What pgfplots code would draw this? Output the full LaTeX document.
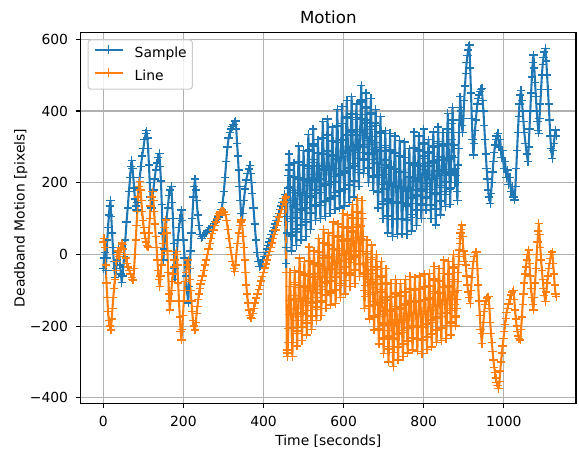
\documentclass[border=0pt]{standalone}
\usepackage{fontspec}
\setmainfont{DejaVu Sans}
\usepackage{pgfplots}
\pgfplotsset{compat=1.18}
\definecolor{tabblue}{HTML}{1F77B4}
\definecolor{taborange}{HTML}{FF7F0E}
\definecolor{gridgray}{HTML}{B0B0B0}
\definecolor{legedge}{HTML}{CCCCCC}
\begin{document}
\begin{tikzpicture}
\begin{axis}[
  name=ax,
  scale only axis, width=356.6pt, height=267.1pt,
  xmin=-56.4, xmax=1180, ymin=-415.3, ymax=619.5,
  xtick={0,200,400,600,800,1000}, xticklabels={0,200,400,600,800,1000},
  ytick={-400,-200,0,200,400,600}, yticklabels={−400,−200,0,200,400,600},
  xtick pos=bottom, ytick pos=left, tick align=outside,
  major tick length=3.5pt,
  every tick/.style={black, line width=0.8pt},
  axis line style={line width=0.8pt},
  grid=major, major grid style={gridgray, line width=0.8pt},
  tick label style={font=\fontsize{10}{12}\selectfont, inner sep=0pt},
  xticklabel style={anchor=base, yshift=-13.4pt},
  yticklabel style={anchor=east, xshift=-5.4pt},
  title={Motion},
  every axis title/.style={at={(axis description cs:0.5,1.0243)}, anchor=base, inner sep=0pt,
               font=\fontsize{12}{14}\selectfont},
  xlabel={Time [seconds]}, ylabel={Deadband Motion [pixels]},
  label style={font=\fontsize{10}{12}\selectfont, inner sep=0pt},
  xlabel style={at={(axis description cs:0.5,-0.1146)}, anchor=base},
  ylabel style={at={(axis description cs:-0.1133,0.5)}, anchor=base},
  legend cell align=left,
  legend image code/.code={\draw[#1,mark repeat=2,mark phase=2] plot coordinates {(0pt,3.2pt)(10pt,3.2pt)(20pt,3.2pt)};},
  legend style={at={(axis description cs:0.014,0.9813)}, anchor=north west,
    draw=legedge, line width=0.8pt, rounded corners=2pt, fill=white, fill opacity=0.8, text opacity=1,
    inner xsep=4pt, inner ysep=4pt, row sep=5.6pt, column sep=8pt,
    font=\fontsize{10}{12}\selectfont,
    nodes={inner sep=0pt, text height=7.5pt, text depth=2pt}},
]
\addplot[tabblue, line width=1.5pt, line join=round, mark=+, mark size=3pt, mark options={line width=1pt, solid}] coordinates {
(0,-40)(2,-10)(4,5)(6,-45)(8,-10)(10,40)(12,75)(14,110)(16,135)(18,150)(20,105)(22,60)(24,20)(26,-20)(28,-45)(30,-65)(32,-40)(34,-15)(36,5)(38,20)(40,0)(42,-30)(44,-55)(46,-78)(48,-60)(50,-35)(52,-5)(55,40)(58,90)(61,130)(64,175)(67,215)(69,245)(71,262)(73,240)(75,215)(77,185)(79,155)(81,135)(83,124)(85,145)(88,180)(91,215)(94,245)(97,275)(100,295)(103,320)(106,338)(108,345)(110,325)(112,295)(114,250)(116,200)(118,160)(120,130)(122,150)(125,180)(128,210)(131,235)(134,255)(137,270)(140,282)(142,245)(144,205)(146,140)(148,60)(150,-16)(152,15)(155,60)(158,100)(161,130)(164,165)(167,180)(170,190)(172,145)(174,100)(176,30)(178,-40)(179,-70)(181,-30)(183,0)(186,40)(189,75)(192,100)(195,124)(197,95)(200,40)(203,-10)(206,-60)(209,-100)(212,-135)(214,-90)(216,-40)(218,10)(220,60)(222,100)(225,160)(227,190)(229,210)(231,180)(233,150)(236,110)(239,80)(242,55)(245,45)(248,50)(252,55)(256,60)(260,65)(264,70)(268,75)(272,80)(276,86)(280,92)(284,98)(288,104)(292,112)(295,125)(298,145)(301,175)(304,215)(307,260)(310,300)(313,325)(316,340)(319,350)(322,357)(325,363)(328,370)(330,372)(332,350)(334,310)(336,275)(338,235)(340,190)(342,150)(344,115)(346,96)(348,115)(351,150)(354,182)(357,208)(360,225)(363,238)(366,248)(368,225)(370,200)(372,170)(375,130)(378,85)(381,40)(384,5)(387,-20)(390,-34)(393,-33)(396,-25)(399,-15)(402,-5)(405,5)(408,15)(411,25)(414,35)(417,45)(420,55)(423,65)(426,75)(429,85)(432,95)(435,105)(438,115)(441,125)(444,135)(447,145)(450,156)(453,168)
(456,-25)(457,20)(458,60)(459,105)(460,150)(461,185)(462,220)(463,250)
(464,280)(465,235)(466,190)(467,145)(468,100)(469,55)(470,10)(471,51)(472,92)(473,133)(474,173)(475,214)
(476,255)(477,217)(478,178)(479,140)(480,102)(481,63)(482,25)(483,71)(484,117)(485,164)(486,210)(487,256)
(488,302)(489,258)(490,215)(491,171)(492,127)(493,84)(494,40)(495,82)(496,123)(497,165)(498,207)(499,248)
(500,290)(501,250)(502,210)(503,170)(504,130)(505,90)(506,50)(507,98)(508,145)(509,193)(510,240)(511,288)
(512,335)(513,291)(514,247)(515,202)(516,158)(517,114)(518,70)(519,117)(520,163)(521,210)(522,257)(523,303)
(524,350)(525,308)(526,265)(527,223)(528,180)(529,138)(530,95)(531,133)(532,170)(533,208)(534,245)(535,283)
(536,320)(537,283)(538,247)(539,210)(540,173)(541,137)(542,100)(543,145)(544,190)(545,235)(546,280)(547,325)
(548,370)(549,326)(550,282)(551,238)(552,193)(553,149)(554,105)(555,151)(556,196)(557,242)(558,287)(559,333)
(560,378)(561,334)(562,290)(563,247)(564,203)(565,159)(566,115)(567,155)(568,195)(569,235)(570,275)(571,315)
(572,355)(573,317)(574,278)(575,240)(576,202)(577,163)(578,125)(579,172)(580,218)(581,265)(582,312)(583,358)
(584,405)(585,359)(586,313)(587,268)(588,222)(589,176)(590,130)(591,177)(592,224)(593,271)(594,318)(595,365)
(596,412)(597,366)(598,320)(599,274)(600,227)(601,181)(602,135)(603,184)(604,233)(605,283)(606,332)(607,381)
(608,430)(609,383)(610,335)(611,288)(612,240)(613,193)(614,145)(615,194)(616,243)(617,293)(618,342)(619,391)
(620,440)(621,393)(622,347)(623,300)(624,253)(625,207)(626,160)(627,203)(628,247)(629,290)(630,333)(631,377)
(632,420)(633,382)(634,343)(635,305)(636,267)(637,228)(638,190)(639,237)(640,284)(641,331)(642,378)(643,425)
(644,472)(645,431)(646,390)(647,348)(648,307)(649,266)(650,225)(651,263)(652,300)(653,338)(654,375)(655,413)
(656,450)(657,408)(658,367)(659,325)(660,283)(661,242)(662,200)(663,239)(664,278)(665,318)(666,357)(667,396)
(668,435)(669,392)(670,349)(671,307)(672,264)(673,221)(674,178)(675,216)(676,254)(677,292)(678,329)(679,367)
(680,405)(681,359)(682,313)(683,268)(684,222)(685,176)(686,130)(687,172)(688,215)(689,257)(690,299)(691,342)
(692,384)(693,337)(694,289)(695,242)(696,195)(697,147)(698,100)(699,141)(700,182)(701,223)(702,263)(703,304)
(704,345)(705,298)(706,250)(707,203)(708,155)(709,108)(710,60)(711,106)(712,152)(713,199)(714,245)(715,291)
(716,337)(717,289)(718,241)(719,194)(720,146)(721,98)(722,50)(723,97)(724,143)(725,190)(726,237)(727,283)
(728,330)(729,284)(730,238)(731,193)(732,147)(733,101)(734,55)(735,99)(736,143)(737,187)(738,230)(739,274)
(740,318)(741,275)(742,231)(743,188)(744,145)(745,101)(746,58)(747,101)(748,143)(749,186)(750,229)(751,271)
(752,314)(753,271)(754,228)(755,185)(756,141)(757,98)(758,55)(759,95)(760,135)(761,175)(762,215)(763,255)
(764,295)(765,257)(766,218)(767,180)(768,142)(769,103)(770,65)(771,111)(772,157)(773,204)(774,250)(775,296)
(776,342)(777,298)(778,255)(779,211)(780,167)(781,124)(782,80)(783,122)(784,163)(785,205)(786,247)(787,288)
(788,330)(789,292)(790,253)(791,215)(792,177)(793,138)(794,100)(795,142)(796,183)(797,225)(798,267)(799,308)
(800,350)(801,312)(802,275)(803,237)(804,199)(805,162)(806,124)(807,157)(808,189)(809,222)(810,255)(811,287)
(812,320)(813,283)(814,247)(815,210)(816,173)(817,137)(818,100)(819,140)(820,181)(821,221)(822,261)(823,302)
(824,342)(825,299)(826,255)(827,212)(828,169)(829,125)(830,82)(831,128)(832,173)(833,219)(834,265)(835,310)
(836,356)(837,315)(838,274)(839,233)(840,192)(841,151)(842,110)(843,148)(844,187)(845,225)(846,263)(847,302)
(848,340)(849,306)(850,271)(851,237)(852,202)(853,168)(854,133)(855,176)(856,220)(857,263)(858,306)(859,350)
(860,393)(861,351)(862,309)(863,266)(864,224)(865,182)(866,140)(867,185)(868,230)(869,275)(870,320)(871,365)
(872,410)(873,375)(874,340)(875,305)(876,270)(877,235)(878,200)(879,220)(880,240)(881,220)(882,200)(883,175)(884,150)(885,200)(886,250)(887,295)(888,340)(889,375)(890,410)(891,440)
(893,400)(895,360)(897,340)(899,380)(901,430)(903,470)(905,505)(907,535)(909,555)(911,570)(913,582)(914,584)(916,520)(918,450)(920,380)(922,320)(924,277)(926,310)(928,345)(930,375)(932,400)(934,420)(936,435)(938,445)(941,455)(943,460)(945,463)(947,430)(949,400)(951,360)(953,320)(955,280)(957,240)(959,210)(961,180)(963,160)(966,142)(968,170)(970,200)(972,230)(974,260)(976,285)(978,305)(980,320)(982,330)(985,338)(988,300)(991,320)(994,270)(997,290)(1000,240)(1003,260)(1006,215)(1009,235)(1012,195)(1015,215)(1018,175)(1021,190)(1024,160)(1027,152)(1029,190)(1031,240)(1033,290)(1035,340)(1037,385)(1039,420)(1041,445)(1043,458)(1045,430)(1047,400)(1049,370)(1051,340)(1054,310)(1057,280)(1060,259)(1062,300)(1064,350)(1066,400)(1068,450)(1070,495)(1072,535)(1074,556)(1076,520)(1078,480)(1080,440)(1082,400)(1084,370)(1086,345)(1087,338)(1089,380)(1091,420)(1093,460)(1095,500)(1097,530)(1099,550)(1101,565)(1104,575)(1106,540)(1108,500)(1110,460)(1112,420)(1114,375)(1116,330)(1118,295)(1121,268)(1123,290)(1125,310)(1127,330)(1129,347)(1131,330)
};
\addlegendentry{Sample}
\addplot[taborange, line width=1.5pt, line join=round, mark=+, mark size=3pt, mark options={line width=1pt, solid}] coordinates {
(0,35)(2,45)(4,20)(6,-30)(8,-80)(10,-120)(12,-160)(14,-185)(16,-200)(19,-211)(21,-180)(23,-150)(25,-120)(27,-95)(29,-70)(31,-45)(33,-20)(35,0)(37,10)(39,-5)(41,5)(43,20)(46,32)(48,28)(50,15)(53,0)(56,-10)(59,-25)(62,-35)(65,-45)(68,-55)(71,-65)(73,-70)(75,-71)(77,-40)(79,0)(81,40)(83,80)(85,120)(87,160)(89,190)(91,203)(93,180)(95,150)(97,120)(99,95)(101,75)(103,60)(105,45)(107,35)(109,25)(112,21)(114,60)(116,100)(118,135)(120,160)(123,175)(125,150)(127,120)(129,85)(131,50)(133,20)(135,-15)(137,-45)(139,-70)(141,-90)(143,-60)(145,-30)(147,0)(149,30)(151,55)(153,75)(156,96)(158,60)(160,10)(162,-50)(164,-110)(166,-155)(168,-130)(170,-100)(172,-75)(174,-55)(176,-35)(178,-15)(180,0)(183,8)(185,-30)(187,-80)(189,-130)(191,-175)(193,-215)(195,-239)(197,-210)(199,-170)(201,-130)(203,-100)(205,-75)(207,-50)(209,-30)(212,-16)(214,-40)(216,-70)(218,-100)(220,-130)(222,-160)(224,-185)(226,-200)(229,-211)(231,-190)(233,-165)(235,-145)(237,-125)(239,-110)(241,-95)(243,-82)(245,-72)(248,-60)(251,-45)(254,-30)(257,-15)(260,0)(263,15)(266,30)(269,45)(272,58)(275,68)(278,80)(281,90)(284,100)(287,108)(290,114)(293,118)(296,120)(299,120)(302,118)(305,112)(308,95)(311,70)(314,45)(317,20)(320,0)(323,-20)(326,-40)(328,-48)(330,-30)(332,0)(335,30)(338,60)(341,80)(343,90)(345,96)(347,80)(349,50)(351,20)(353,-15)(355,-50)(357,-85)(359,-110)(361,-135)(363,-155)(366,-170)(368,-176)(370,-178)(373,-165)(376,-150)(379,-135)(382,-122)(385,-110)(388,-98)(391,-86)(394,-74)(397,-62)(400,-50)(403,-38)(406,-27)(409,-15)(412,-3)(415,9)(418,20)(421,32)(424,44)(427,56)(430,68)(433,80)(436,92)(439,104)(442,115)(445,125)(448,136)(451,146)(454,156)
(456,160)(457,-50)(458,-267)(459,-275)(460,-285)(461,-246)(462,-207)(463,-168)(464,-128)(465,-89)
(466,-50)(467,-89)(468,-128)(469,-168)(470,-207)(471,-246)(472,-285)(473,-245)(474,-205)(475,-164)(476,-124)(477,-84)
(478,-44)(479,-79)(480,-114)(481,-150)(482,-185)(483,-220)(484,-255)(485,-214)(486,-173)(487,-132)(488,-92)(489,-51)
(490,-10)(491,-48)(492,-87)(493,-125)(494,-163)(495,-202)(496,-240)(497,-203)(498,-167)(499,-130)(500,-93)(501,-57)
(502,-20)(503,-54)(504,-88)(505,-123)(506,-157)(507,-191)(508,-225)(509,-184)(510,-143)(511,-102)(512,-61)(513,-20)
(514,21)(515,-18)(516,-56)(517,-95)(518,-133)(519,-172)(520,-210)(521,-173)(522,-137)(523,-100)(524,-63)(525,-27)
(526,10)(527,-23)(528,-55)(529,-88)(530,-120)(531,-153)(532,-185)(533,-147)(534,-108)(535,-70)(536,-32)(537,7)
(538,45)(539,9)(540,-27)(541,-63)(542,-98)(543,-134)(544,-170)(545,-130)(546,-90)(547,-50)(548,-10)(549,30)
(550,70)(551,33)(552,-3)(553,-40)(554,-77)(555,-113)(556,-150)(557,-115)(558,-80)(559,-45)(560,-10)(561,25)
(562,60)(563,27)(564,-7)(565,-41)(566,-74)(567,-108)(568,-141)(569,-102)(570,-64)(571,-25)(572,14)(573,52)
(574,91)(575,53)(576,15)(577,-23)(578,-61)(579,-99)(580,-137)(581,-100)(582,-63)(583,-26)(584,11)(585,48)
(586,85)(587,51)(588,17)(589,-18)(590,-52)(591,-86)(592,-120)(593,-81)(594,-42)(595,-3)(596,37)(597,76)
(598,115)(599,78)(600,40)(601,3)(602,-35)(603,-73)(604,-110)(605,-73)(606,-37)(607,0)(608,37)(609,73)
(610,110)(611,77)(612,43)(613,10)(614,-23)(615,-57)(616,-90)(617,-52)(618,-13)(619,25)(620,63)(621,102)
(622,140)(623,103)(624,66)(625,30)(626,-7)(627,-44)(628,-81)(629,-42)(630,-2)(631,38)(632,77)(633,117)
(634,156)(635,120)(636,83)(637,47)(638,11)(639,-26)(640,-62)(641,-27)(642,9)(643,44)(644,79)(645,115)
(646,150)(647,100)(648,50)(649,0)(650,-50)(651,-100)(652,-150)(653,-118)(654,-87)(655,-55)(656,-23)(657,8)
(658,40)(659,3)(660,-33)(661,-70)(662,-107)(663,-143)(664,-180)(665,-146)(666,-111)(667,-77)(668,-43)(669,-8)
(670,26)(671,-14)(672,-53)(673,-93)(674,-132)(675,-172)(676,-211)(677,-176)(678,-141)(679,-106)(680,-70)(681,-35)
(682,0)(683,-42)(684,-83)(685,-125)(686,-167)(687,-208)(688,-250)(689,-212)(690,-173)(691,-135)(692,-97)(693,-58)
(694,-20)(695,-63)(696,-105)(697,-148)(698,-191)(699,-233)(700,-276)(701,-237)(702,-197)(703,-158)(704,-119)(705,-79)
(706,-40)(707,-83)(708,-127)(709,-170)(710,-213)(711,-257)(712,-300)(713,-264)(714,-227)(715,-191)(716,-154)(717,-118)
(718,-81)(719,-120)(720,-158)(721,-197)(722,-236)(723,-274)(724,-313)(725,-273)(726,-232)(727,-192)(728,-151)(729,-111)
(730,-70)(731,-108)(732,-145)(733,-183)(734,-220)(735,-258)(736,-295)(737,-259)(738,-224)(739,-188)(740,-152)(741,-117)
(742,-81)(743,-115)(744,-149)(745,-183)(746,-217)(747,-251)(748,-285)(749,-249)(750,-213)(751,-178)(752,-142)(753,-106)
(754,-70)(755,-104)(756,-138)(757,-173)(758,-207)(759,-241)(760,-275)(761,-240)(762,-204)(763,-169)(764,-133)(765,-98)
(766,-62)(767,-96)(768,-130)(769,-165)(770,-199)(771,-233)(772,-267)(773,-233)(774,-200)(775,-166)(776,-132)(777,-99)
(778,-65)(779,-99)(780,-133)(781,-168)(782,-202)(783,-236)(784,-270)(785,-235)(786,-200)(787,-165)(788,-130)(789,-95)
(790,-60)(791,-96)(792,-132)(793,-168)(794,-204)(795,-240)(796,-276)(797,-239)(798,-202)(799,-166)(800,-129)(801,-92)
(802,-55)(803,-90)(804,-125)(805,-160)(806,-195)(807,-230)(808,-265)(809,-230)(810,-194)(811,-159)(812,-124)(813,-88)
(814,-53)(815,-87)(816,-121)(817,-156)(818,-190)(819,-224)(820,-258)(821,-221)(822,-183)(823,-146)(824,-109)(825,-71)
(826,-34)(827,-69)(828,-104)(829,-140)(830,-175)(831,-210)(832,-245)(833,-211)(834,-177)(835,-143)(836,-108)(837,-74)
(838,-40)(839,-73)(840,-107)(841,-140)(842,-173)(843,-207)(844,-240)(845,-203)(846,-165)(847,-128)(848,-91)(849,-53)
(850,-16)(851,-53)(852,-89)(853,-126)(854,-162)(855,-199)(856,-235)(857,-199)(858,-163)(859,-128)(860,-92)(861,-56)
(862,-20)(863,-54)(864,-88)(865,-123)(866,-157)(867,-191)(868,-225)(869,-188)(870,-150)(871,-113)(872,-75)(873,-38)
(874,0)(875,-35)(876,-70)(877,-105)(878,-140)(879,-170)(880,-200)(881,-175)(882,-150)(883,-125)(884,-100)(885,-75)(886,-50)(887,-28)(888,-5)(889,12)(890,30)(891,45)(892,60)(893,70)(895,82)
(897,50)(899,10)(901,-20)(903,0)(905,-30)(907,-60)(909,-85)(911,-105)(913,-120)(916,-137)(918,-100)(920,-65)(922,-40)(924,-20)(926,-5)(929,5)(932,7)(934,-40)(936,-85)(938,-130)(940,-170)(942,-210)(945,-248)(947,-220)(949,-190)(951,-160)(953,-140)(955,-130)(958,-122)(960,-118)(962,-118)(964,-150)(966,-190)(968,-220)(970,-245)(972,-270)(974,-295)(976,-315)(978,-330)(980,-345)(982,-357)(984,-365)(987,-374)(989,-355)(991,-325)(993,-300)(995,-275)(997,-255)(999,-235)(1001,-215)(1003,-195)(1005,-178)(1007,-162)(1009,-150)(1012,-138)(1015,-125)(1018,-113)(1021,-105)(1024,-100)(1026,-125)(1028,-155)(1030,-180)(1032,-200)(1034,-215)(1036,-228)(1038,-235)(1041,-239)(1043,-210)(1045,-175)(1047,-140)(1049,-110)(1051,-80)(1053,-55)(1055,-35)(1057,-15)(1059,0)(1062,12)(1064,-25)(1066,-60)(1068,-95)(1070,-120)(1072,-140)(1074,-155)(1076,-120)(1078,-80)(1080,-40)(1082,0)(1084,35)(1086,65)(1087,86)(1089,55)(1091,20)(1093,-15)(1095,-45)(1097,-70)(1099,-95)(1101,-115)(1104,-132)(1106,-105)(1108,-80)(1110,-60)(1112,-40)(1114,-25)(1116,-12)(1118,0)(1121,7)(1123,-25)(1125,-55)(1127,-85)(1129,-110)(1131,-118)
};
\addlegendentry{Line}
\end{axis}
\path (ax.south west) ++(-58.1pt,-33.6pt) rectangle ++(416.9pt,324pt);
\end{tikzpicture}
\end{document}
